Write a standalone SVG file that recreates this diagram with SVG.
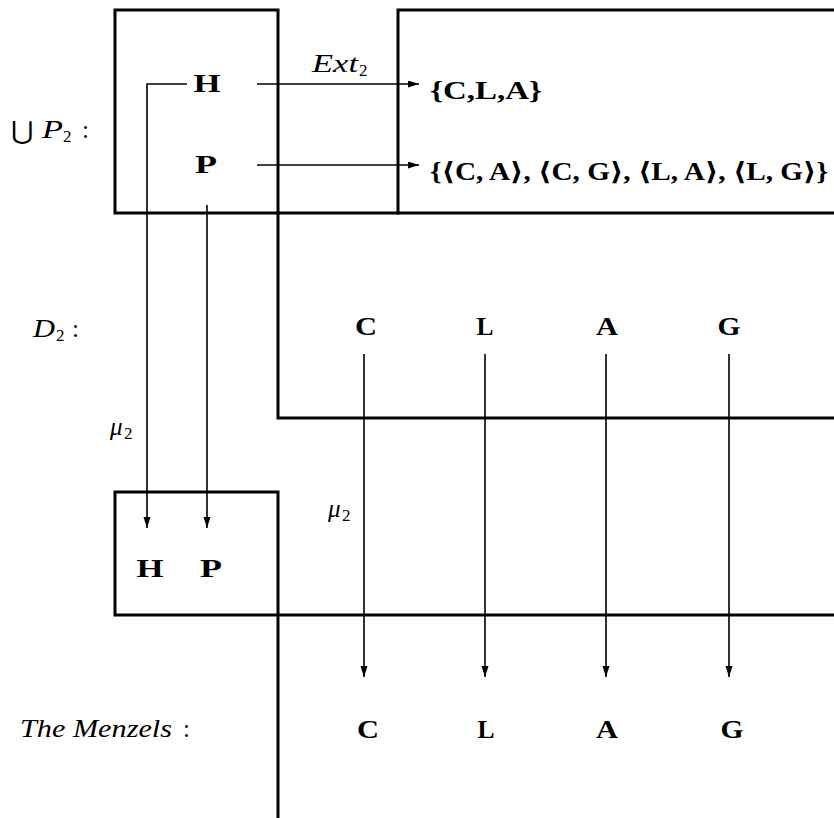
<svg xmlns="http://www.w3.org/2000/svg" width="834" height="818" viewBox="0 0 834 818">
<defs>
<style>
.frame{fill:none;stroke:#000;stroke-width:3;stroke-linecap:square}
.conn{fill:none;stroke:#000;stroke-width:1.6}
.b{font-family:"Liberation Serif","DejaVu Serif",serif;font-weight:bold;font-size:26px;fill:#000}
.s{font-family:"Liberation Serif","DejaVu Serif",serif;font-weight:bold;font-size:25px;fill:#000}
.i{font-family:"Liberation Serif","DejaVu Serif",serif;font-style:italic;font-size:25px;fill:#000}
.r{font-family:"Liberation Serif","DejaVu Serif",serif;font-size:25px;fill:#000}
.sub{font-family:"Liberation Serif","DejaVu Serif",serif;font-size:17px;fill:#000}
</style>
<marker id="ah" markerUnits="userSpaceOnUse" markerWidth="12" markerHeight="8" refX="11" refY="3.5" orient="auto">
<path d="M0,0 L11,3.5 L0,7 z" fill="#000"/>
</marker>
</defs>
<rect width="834" height="818" fill="#fff"/>

<g id="frames">
<rect class="frame" x="115" y="10" width="163" height="203"/>
<polyline class="frame" points="834,10 398,10 398,213"/>
<line class="frame" x1="278" y1="213" x2="834" y2="213"/>
<polyline class="frame" points="278,213 278,418 834,418"/>
<polyline class="frame" points="278,818 278,492 115,492 115,615 834,615"/>
</g>

<g id="row-labels">
<text class="r" x="11" y="139" font-size="30" textLength="23" lengthAdjust="spacingAndGlyphs">⋃</text>
<text class="i" x="42" y="138" textLength="21" lengthAdjust="spacingAndGlyphs">P</text>
<text class="sub" x="63" y="142">2</text>
<text class="r" x="82" y="138">:</text>
<text class="i" x="33" y="337" textLength="22" lengthAdjust="spacingAndGlyphs">D</text>
<text class="sub" x="56" y="341">2</text>
<text class="r" x="72" y="337">:</text>
<text class="i" x="20" y="737" textLength="152" lengthAdjust="spacingAndGlyphs">The Menzels</text>
<text class="r" x="183" y="737">:</text>
</g>

<g id="node-H-top"><text class="b" x="207" y="92" text-anchor="middle" textLength="27" lengthAdjust="spacingAndGlyphs">H</text></g>
<g id="node-P-top"><text class="b" x="206" y="173" text-anchor="middle" textLength="22" lengthAdjust="spacingAndGlyphs">P</text></g>
<g id="node-ext-H"><text class="s" x="430" y="99" textLength="112" lengthAdjust="spacingAndGlyphs">{C,L,A}</text></g>
<g id="node-ext-P"><text class="s" x="430" y="180" textLength="398" lengthAdjust="spacingAndGlyphs">{⟨C, A⟩, ⟨C, G⟩, ⟨L, A⟩, ⟨L, G⟩}</text></g>

<g id="node-D-C"><text class="b" x="366" y="335" text-anchor="middle" textLength="22" lengthAdjust="spacingAndGlyphs">C</text></g>
<g id="node-D-L"><text class="b" x="485" y="335" text-anchor="middle" textLength="17" lengthAdjust="spacingAndGlyphs">L</text></g>
<g id="node-D-A"><text class="b" x="607" y="335" text-anchor="middle" textLength="22" lengthAdjust="spacingAndGlyphs">A</text></g>
<g id="node-D-G"><text class="b" x="729" y="335" text-anchor="middle" textLength="23" lengthAdjust="spacingAndGlyphs">G</text></g>

<g id="node-H-low"><text class="b" x="150" y="577" text-anchor="middle" textLength="27" lengthAdjust="spacingAndGlyphs">H</text></g>
<g id="node-P-low"><text class="b" x="211" y="577" text-anchor="middle" textLength="22" lengthAdjust="spacingAndGlyphs">P</text></g>

<g id="node-M-C"><text class="b" x="368" y="738" text-anchor="middle" textLength="22" lengthAdjust="spacingAndGlyphs">C</text></g>
<g id="node-M-L"><text class="b" x="486" y="738" text-anchor="middle" textLength="17" lengthAdjust="spacingAndGlyphs">L</text></g>
<g id="node-M-A"><text class="b" x="607" y="738" text-anchor="middle" textLength="22" lengthAdjust="spacingAndGlyphs">A</text></g>
<g id="node-M-G"><text class="b" x="732" y="738" text-anchor="middle" textLength="23" lengthAdjust="spacingAndGlyphs">G</text></g>

<g id="connectors">
<line class="conn" x1="257" y1="84" x2="419" y2="84" marker-end="url(#ah)"/>
<line class="conn" x1="257" y1="165" x2="419" y2="165" marker-end="url(#ah)"/>
<polyline class="conn" points="187,84 147,84 147,528" marker-end="url(#ah)"/>
<line class="conn" x1="207" y1="205" x2="207" y2="528" marker-end="url(#ah)"/>
<line class="conn" x1="364" y1="354" x2="364" y2="677" marker-end="url(#ah)"/>
<line class="conn" x1="485" y1="354" x2="485" y2="677" marker-end="url(#ah)"/>
<line class="conn" x1="606" y1="354" x2="606" y2="677" marker-end="url(#ah)"/>
<line class="conn" x1="729" y1="354" x2="729" y2="677" marker-end="url(#ah)"/>
</g>

<g id="connector-labels">
<text class="i" x="312" y="72" font-size="23" textLength="46" lengthAdjust="spacingAndGlyphs">Ext</text>
<text class="sub" x="359" y="76">2</text>
<text class="i" x="110" y="435" font-size="24">μ</text>
<text class="sub" x="124" y="439">2</text>
<text class="i" x="328" y="517" font-size="24">μ</text>
<text class="sub" x="342" y="521">2</text>
</g>
</svg>
